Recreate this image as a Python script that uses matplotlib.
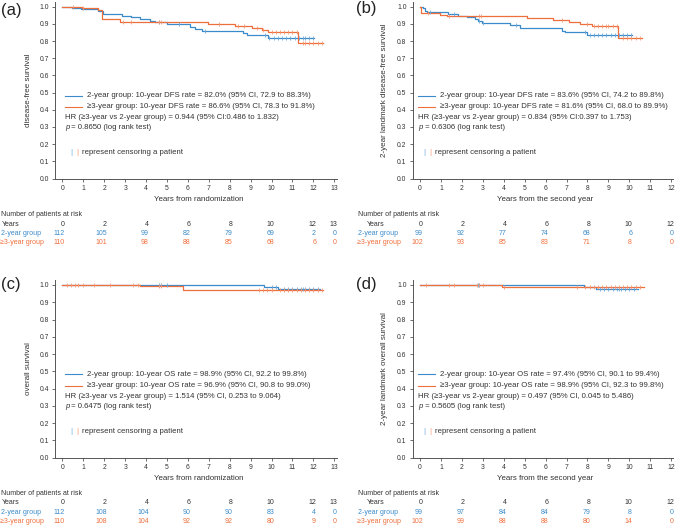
import numpy as np
import matplotlib
matplotlib.use("Agg")
import matplotlib.pyplot as plt
from matplotlib.transforms import blended_transform_factory

plt.rcParams['font.family'] = ['Liberation Sans', 'DejaVu Sans']

W, H = 678, 526
BLUE = '#3b8bcb'
ORANGE = '#ef6f3c'
BLUE_C = '#6fa9d8'
ORANGE_C = '#f49a74'
TXT = '#333333'

# ---------------- data ----------------
# Panel (a) DFS from randomization
a_blue_t = [0, 0.45, 0.89, 1.72, 1.96, 2.84, 3.28, 3.72, 4.19, 4.43, 4.99, 6.10, 6.34, 6.66, 8.65, 8.81, 9.85, 12.05]
a_blue_s = [1.0, 0.991, 0.985, 0.975, 0.957, 0.948, 0.938, 0.927, 0.917, 0.909, 0.897, 0.884, 0.872, 0.859, 0.845, 0.836, 0.820, 0.820]
a_orange_t = [0, 0.92, 1.72, 1.88, 2.76, 6.98, 8.26, 9.05, 9.53, 9.84, 11.28, 12.48]
a_orange_s = [1.0, 0.993, 0.982, 0.927, 0.909, 0.899, 0.886, 0.876, 0.866, 0.855, 0.790, 0.790]
a_blue_cens = [4.6, 5.6, 6.8, 9.7, 9.9, 10.1, 10.3, 10.5, 10.7, 10.9, 11.1, 11.3, 11.5, 11.6, 11.8, 12.0]
a_orange_cens = [0.5, 1.0, 2.9, 3.3, 4.6, 4.7, 7.5, 8.4, 8.7, 9.3, 9.6, 10.0, 10.2, 10.4, 10.6, 10.8, 11.0, 11.2, 11.5, 11.6, 11.8, 12.0, 12.2, 12.4]

# Panel (b) landmark DFS
b_blue_t = [0, 0.13, 0.24, 0.32, 1.35, 1.83, 2.26, 2.63, 2.79, 2.95, 4.30, 4.78, 6.77, 6.93, 7.97, 10.12]
b_blue_s = [1.0, 0.990, 0.977, 0.968, 0.957, 0.948, 0.938, 0.927, 0.915, 0.907, 0.893, 0.874, 0.860, 0.851, 0.836, 0.836]
b_orange_t = [0, 0.05, 0.96, 1.27, 5.10, 6.37, 7.14, 7.65, 8.20, 9.45, 10.60]
b_orange_s = [1.0, 0.963, 0.953, 0.943, 0.934, 0.920, 0.909, 0.899, 0.888, 0.816, 0.816]
b_blue_cens = [0.5, 1.6, 2.8, 3.0, 4.6, 7.9, 8.1, 8.3, 8.5, 8.7, 8.9, 9.1, 9.3, 9.5, 9.7, 9.9, 10.1]
b_orange_cens = [0.4, 1.4, 2.8, 2.9, 6.8, 8.0, 8.3, 8.5, 8.7, 8.9, 9.0, 9.2, 9.4, 9.7, 9.9, 10.1, 10.3, 10.5]

# Panel (c) OS from randomization
c_blue_t = [0, 9.66, 10.30, 12.30]
c_blue_s = [1.0, 0.990, 0.977, 0.977]
c_orange_t = [0, 3.72, 5.78, 12.48]
c_orange_s = [1.0, 0.993, 0.969, 0.969]
c_blue_cens = [4.6, 4.7, 5.0, 10.0, 10.2, 10.6, 10.8, 11.0, 11.2, 11.4, 11.5, 11.6, 11.8, 12.0, 12.2]
c_orange_cens = [0.2, 0.4, 0.6, 0.75, 1.0, 1.5, 2.3, 3.4, 3.6, 4.6, 4.7, 9.4, 9.6, 9.8, 10.0, 10.4, 10.6, 10.8, 11.0, 11.2, 11.4, 11.6, 11.8, 12.0, 12.2, 12.4]

# Panel (d) landmark OS
d_blue_t = [0, 7.81, 8.41, 10.40]
d_blue_s = [1.0, 0.987, 0.975, 0.975]
d_orange_t = [0, 3.94, 10.68]
d_orange_s = [1.0, 0.989, 0.989]
d_blue_cens = [2.75, 2.8, 8.6, 8.8, 9.0, 9.2, 9.4, 9.5, 9.6, 9.8, 10.0, 10.2]
d_orange_cens = [0.3, 1.4, 1.6, 2.7, 2.8, 3.0, 4.0, 7.5, 7.9, 8.1, 8.3, 8.5, 8.7, 8.9, 9.1, 9.3, 9.5, 9.7, 9.9, 10.1, 10.3, 10.5]

# Risk tables
a_years = [0, 2, 4, 6, 8, 10, 12, 13]
a_risk_blue = [112, 105, 99, 82, 79, 69, 2, 0]
a_risk_orange = [110, 101, 98, 88, 85, 68, 6, 0]
b_years = [0, 2, 4, 6, 8, 10, 12]
b_risk_blue = [99, 92, 77, 74, 68, 6, 0]
b_risk_orange = [102, 93, 85, 83, 71, 8, 0]
c_years = [0, 2, 4, 6, 8, 10, 12, 13]
c_risk_blue = [112, 108, 104, 90, 90, 83, 4, 0]
c_risk_orange = [110, 108, 104, 92, 92, 80, 9, 0]
d_years = [0, 2, 4, 6, 8, 10, 12]
d_risk_blue = [99, 97, 84, 84, 79, 8, 0]
d_risk_orange = [102, 99, 88, 88, 80, 14, 0]

a_legend = ["2-year group: 10-year DFS rate = 82.0% (95% CI, 72.9 to 88.3%)",
            "\u22653-year group: 10-year DFS rate = 86.6% (95% CI, 78.3 to 91.8%)",
            "HR (\u22653-year vs 2-year group) = 0.944 (95% CI:0.486 to 1.832)",
            "0.8650"]
b_legend = ["2-year group: 10-year DFS rate = 83.6% (95% CI, 74.2 to 89.8%)",
            "\u22653-year group: 10-year DFS rate = 81.6% (95% CI, 68.0 to 89.9%)",
            "HR (\u22653-year vs 2-year group) = 0.834 (95% CI:0.397 to 1.753)",
            "0.6306"]
c_legend = ["2-year group: 10-year OS rate = 98.9% (95% CI, 92.2 to 99.8%)",
            "\u22653-year group: 10-year OS rate = 96.9% (95% CI, 90.8 to 99.0%)",
            "HR (\u22653-year vs 2-year group) = 1.514 (95% CI, 0.253 to 9.064)",
            "0.6475"]
d_legend = ["2-year group: 10-year OS rate = 97.4% (95% CI, 90.1 to 99.4%)",
            "\u22653-year group: 10-year OS rate = 98.9% (95% CI, 92.3 to 99.8%)",
            "HR (\u22653-year vs 2-year group) = 0.497 (95% CI, 0.045 to 5.486)",
            "0.5605"]

fig = plt.figure(figsize=(W / 100, H / 100), dpi=100)

LEG_FS = 5.55


def fx(px):
    return px / W


def fy(py):
    return 1 - py / H


def step_at(t, s, x):
    idx = np.searchsorted(np.asarray(t), np.asarray(x), side='right') - 1
    return np.asarray(s)[idx]


def panel(rect, xmax, ticks_max, bt, bs, ot, os_, bc, oc, ylabel, xlabel,
          legend, lx, letter, letter_xy, ylab_x, years, rb, ro, table_top, table_left, years_indent):
    left, top, right, bottom = rect
    ax = fig.add_axes([fx(left), fy(bottom), fx(right - left), (bottom - top) / H])
    ax.step(bt, bs, where='post', color=BLUE, lw=0.9)
    ax.step(ot, os_, where='post', color=ORANGE, lw=0.9)
    ax.plot(bc, step_at(bt, bs, bc), ls='none', marker='|', ms=3.4, mew=0.6, color=BLUE_C)
    ax.plot(oc, step_at(ot, os_, oc), ls='none', marker='|', ms=3.4, mew=0.6, color=ORANGE_C)
    ax.set_xlim(-0.35, xmax)
    ax.set_ylim(0, 1.03)
    ax.set_xticks(range(0, ticks_max + 1))
    ax.set_yticks(np.round(np.arange(0, 1.01, 0.1), 1))
    ax.set_yticklabels([f"{v:.1f}" for v in np.arange(0, 1.01, 0.1)])
    for sp in ['top', 'right']:
        ax.spines[sp].set_visible(False)
    for sp in ['left', 'bottom']:
        ax.spines[sp].set_color('#555555')
        ax.spines[sp].set_linewidth(0.7)
    ax.tick_params(labelsize=4.9, colors='#555555', labelcolor=TXT, length=2.5, width=0.6, pad=2)
    ax.set_ylabel(ylabel, fontsize=5.8, color=TXT)
    ax.yaxis.set_label_coords(ylab_x, 0.5)
    ax.set_xlabel(xlabel, fontsize=5.7, color=TXT)
    ax.xaxis.set_label_coords(0.51, -0.118)
    ax.xaxis.label.set_va('center')

    tr = blended_transform_factory(ax.transAxes, ax.transData)
    lw0, lw1, tx = lx
    for yv, col, txt in [(0.482, BLUE, legend[0]), (0.417, ORANGE, legend[1])]:
        ax.plot([lw0, lw1], [yv, yv], color=col, lw=0.8, transform=tr, clip_on=False)
        ax.text(tx, yv, txt, fontsize=LEG_FS, color=TXT, va='center', ha='left', transform=tr)
    ax.text(lw0, 0.353, legend[2], fontsize=LEG_FS, color=TXT, va='center', ha='left', transform=tr)
    pt = ax.text(lw0, 0.289, "p", fontsize=LEG_FS, color=TXT, style='italic',
                 va='baseline', ha='left', transform=tr)
    ax.annotate(" = " + legend[3] + " (log rank test)", xy=(1, 0), xycoords=pt,
                fontsize=LEG_FS, color=TXT, va='bottom', ha='left')
    ax.text(lw0 + 0.02, 0.150, "|", fontsize=LEG_FS, color=BLUE_C, va='center', ha='left', transform=tr)
    ax.text(lw0 + 0.04, 0.150, "|", fontsize=LEG_FS, color=ORANGE_C, va='center', ha='left', transform=tr)
    ax.text(lw0 + 0.062, 0.150, "represent censoring a patient", fontsize=LEG_FS, color=TXT,
            va='center', ha='left', transform=tr)

    fig.text(fx(letter_xy[0]), fy(letter_xy[1]), letter, fontsize=12, color='#222222',
             ha='left', va='center')

    # risk table
    r0, r1, r2, r3 = table_top
    fig.text(fx(table_left), fy(r0), "Number of patients at risk", fontsize=5.0, color=TXT, va='center')
    fig.text(fx(table_left + years_indent), fy(r1), "Years", fontsize=5.0, color=TXT, va='center')
    fig.text(fx(table_left), fy(r2), "2-year group", fontsize=5.0, color=BLUE, va='center')
    fig.text(fx(table_left - 1.5), fy(r3), "\u22653-year group", fontsize=5.0, color=ORANGE, va='center')
    btr = blended_transform_factory(ax.transData, fig.transFigure)
    for yr, nb, no in zip(years, rb, ro):
        ax.text(yr + 0.13, fy(r1), str(yr), transform=btr, fontsize=5.0, color=TXT, ha='right', va='center')
        ax.text(yr + 0.13, fy(r2), str(nb), transform=btr, fontsize=5.0, color=BLUE, ha='right', va='center')
        ax.text(yr + 0.13, fy(r3), str(no), transform=btr, fontsize=5.0, color=ORANGE, ha='right', va='center')
    return ax


panel((55, 1.5, 337, 178.5), 13.13, 13, a_blue_t, a_blue_s, a_orange_t, a_orange_s,
      a_blue_cens, a_orange_cens, "disease-free survival", "Years from randomization",
      a_legend, (0.035, 0.095, 0.112), "(a)", (1.5, 10), -0.083,
      a_years, a_risk_blue, a_risk_orange, (214.3, 224.3, 233.3, 242.3), 1.0, 0.7)

panel((412.7, 1.5, 673.3, 178.5), 12.1, 12, b_blue_t, b_blue_s, b_orange_t, b_orange_s,
      b_blue_cens, b_orange_cens, "2-year landmark disease-free survival", "Years from the second year",
      b_legend, (0.022, 0.086, 0.105), "(b)", (356, 8.5), -0.094,
      b_years, b_risk_blue, b_risk_orange, (214.3, 224.3, 233.3, 242.3), 358.3, 9.0)

panel((55, 279.8, 337, 457.7), 13.13, 13, c_blue_t, c_blue_s, c_orange_t, c_orange_s,
      c_blue_cens, c_orange_cens, "overall survival", "Years from randomization",
      c_legend, (0.035, 0.095, 0.112), "(c)", (1.5, 285), -0.083,
      c_years, c_risk_blue, c_risk_orange, (493.3, 502.7, 512.3, 521.7), 1.0, 0.7)

panel((412.7, 279.8, 673.3, 457.7), 12.1, 12, d_blue_t, d_blue_s, d_orange_t, d_orange_s,
      d_blue_cens, d_orange_cens, "2-year landmark overall survival", "Years from the second year",
      d_legend, (0.022, 0.086, 0.105), "(d)", (356, 285), -0.094,
      d_years, d_risk_blue, d_risk_orange, (493.3, 502.7, 512.3, 521.7), 358.3, 9.0)

fig.savefig("out.png", dpi=100)
